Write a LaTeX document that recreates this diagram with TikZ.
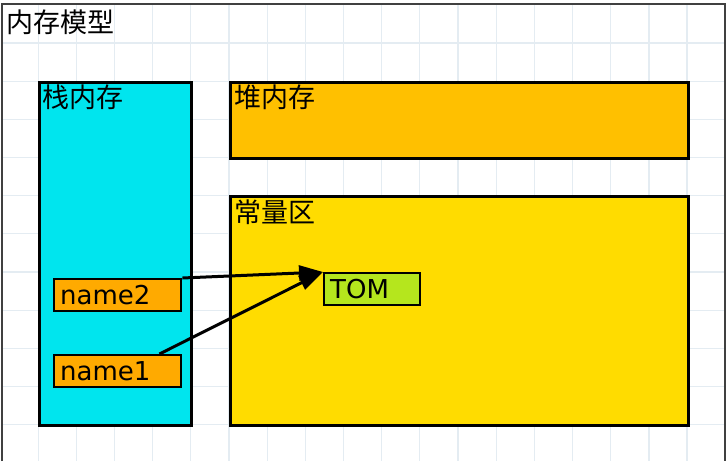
\documentclass[tikz,border=0pt]{standalone}
\usepackage{fontspec}
\setmainfont{DejaVu Sans}
\newfontfamily\cjk{Noto Sans CJK SC}
\usetikzlibrary{arrows.meta, positioning, calc}
\definecolor{stackcyan}{RGB}{0,229,238}
\definecolor{heaporange}{RGB}{255,192,0}
\definecolor{constyellow}{RGB}{255,220,0}
\definecolor{varorange}{RGB}{255,170,0}
\definecolor{strgreen}{RGB}{181,230,29}
\definecolor{gridblue}{RGB}{228,236,242}
\tikzset{
    area/.style={draw=black, line width=2.6pt, anchor=north west, inner sep=0pt},
    title/.style={anchor=north west, inner sep=0pt, font=\cjk\fontsize{27}{31}\selectfont},
    var/.style={draw=black, line width=2.4pt, anchor=north west, minimum height=32pt, text width=115pt,
        inner xsep=6pt, inner ysep=0pt, align=left, font=\fontsize{26}{29}\selectfont},
    ref/.style={-{Triangle[length=24pt,width=15pt]}, line width=3pt, black},
    gridline/.style={draw=gridblue, line width=1.2pt}
}

\begin{document}
\begin{tikzpicture}[x=1pt, y=-1pt]
    \useasboundingbox (0,0) rectangle (727,461);
    \foreach \k in {1,...,18}
        \draw[gridline] ({38.17*\k},4) -- ({38.17*\k},461);
    \foreach \k in {1,...,11}
        \draw[gridline] (2,{4.8+38.17*\k}) -- (725,{4.8+38.17*\k});
    \draw[line width=2pt, black!75] (2,461) -- (2,4) -- (725,4) -- (725,461);
    \node[title] (model) at (6,10) {内存模型};

    \node[area, fill=stackcyan, minimum width=152pt, minimum height=343pt] (stack) at (38,81) {};
    \node[area, fill=heaporange, minimum width=458pt, minimum height=76pt] (heap) at (229,81) {};
    \node[area, fill=constyellow, minimum width=458pt, minimum height=229pt] (const) at (229,195) {};
    \node[title] (stacklbl) at ([shift={(4,4)}]stack.north west) {栈内存};
    \node[title] (heaplbl) at ([shift={(5,4)}]heap.north west) {堆内存};
    \node[title] (constlbl) at ([shift={(5,5)}]const.north west) {常量区};

    \node[var, fill=varorange] (name2) at (53,278) {name2};
    \node[var, fill=varorange] (name1) at (53,354) {name1};
    \node[var, fill=strgreen, text width=84pt] (tom) at (323,272) {TOM};

    \draw[ref] (name2.north east) -- (tom.north west);
    \draw[ref] ([xshift=-23pt]name1.north east) -- (tom.north west);
\end{tikzpicture}
\end{document}
